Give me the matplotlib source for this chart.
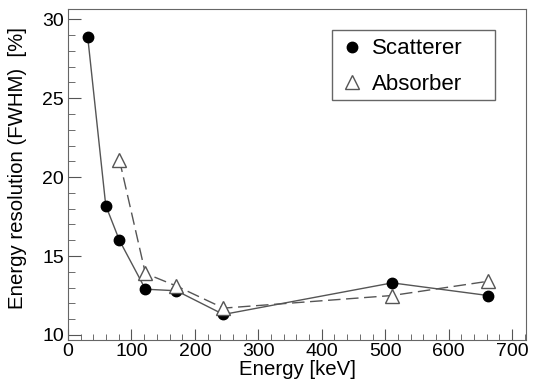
import matplotlib
matplotlib.use("Agg")
import matplotlib.pyplot as plt
from matplotlib.ticker import MultipleLocator
from matplotlib.patches import Rectangle

plt.rcParams['font.family'] = ['Liberation Sans', 'DejaVu Sans']

scat_energy = [31, 59.5, 81, 122, 171, 245, 511, 662]
scat_res = [28.9, 18.2, 16.0, 12.9, 12.8, 11.3, 13.3, 12.5]
abs_energy = [81, 122, 171, 245, 511, 662]
abs_res = [21.1, 13.9, 13.1, 11.7, 12.5, 13.4]

fig = plt.figure(figsize=(5.33, 3.82), dpi=100)
ax = fig.add_axes([0.1276, 0.1099, 0.8593, 0.8657])

ax.plot(scat_energy, scat_res, '-', color='#555555', lw=1.0, marker='o',
        markersize=7.5, markerfacecolor='black', markeredgecolor='black', label='Scatterer')
ax.plot(abs_energy, abs_res, color='#555555', lw=1.0, dashes=(9, 4), marker='^',
        markersize=9.5, markerfacecolor='white', markeredgecolor='#555555',
        markeredgewidth=1.0, label='Absorber')

ax.set_xlim(0, 722)
ax.set_ylim(9.68, 30.63)
ax.xaxis.set_major_locator(MultipleLocator(100))
ax.xaxis.set_minor_locator(MultipleLocator(20))
ax.yaxis.set_major_locator(MultipleLocator(5))
ax.yaxis.set_minor_locator(MultipleLocator(1))
ax.tick_params(which='both', direction='in', top=False, right=False,
               labelsize=14, color='#555555')
ax.tick_params(axis='y', which='major', length=9, pad=3)
ax.tick_params(axis='y', which='minor', length=4.8)
ax.tick_params(axis='x', which='major', length=7.7, pad=2)
ax.tick_params(axis='x', which='minor', length=4)
for s in ax.spines.values():
    s.set_color('#666666')

ax.set_xlabel('Energy [keV]', fontsize=14.7, labelpad=0.5)
ax.set_ylabel('Energy resolution (FWHM)  [%]', fontsize=14.7)
ax.yaxis.set_label_coords(-0.09, 0.5216)

ax.add_patch(Rectangle((0.5758, 0.7257), 0.9323 - 0.5758, 0.9374 - 0.7257,
                       transform=ax.transAxes, fill=False, edgecolor='#666666',
                       lw=1.0, zorder=5))
leg = ax.legend(loc='upper left', bbox_to_anchor=(0.5778, 0.9374), fontsize=16,
                frameon=False, handlelength=1.0, borderpad=0.38, labelspacing=0.65,
                handletextpad=0.4, borderaxespad=0.0)
for h in leg.get_lines():
    h.set_linestyle('none')

fig.savefig('out.png', dpi=100)
